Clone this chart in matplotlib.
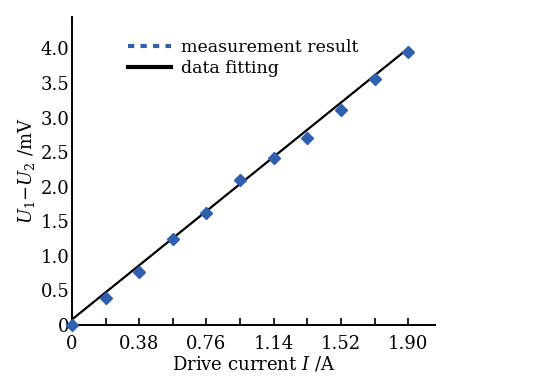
import numpy as np
import matplotlib.pyplot as plt
from matplotlib.lines import Line2D

# 测量数据
current = [0, 0.19, 0.38, 0.57, 0.76, 0.95, 1.14, 1.33, 1.52, 1.71, 1.90]
voltage = [0, 0.39, 0.77, 1.25, 1.62, 2.09, 2.41, 2.71, 3.11, 3.55, 3.94]

# 拟合直线
fit_x = [0, 1.90]
fit_y = [0.08, 4.0]

x_ticks = [0, 0.38, 0.76, 1.14, 1.52, 1.90]
x_labels = ['0', '0.38', '0.76', '1.14', '1.52', '1.90']
y_ticks = [0, 0.5, 1.0, 1.5, 2.0, 2.5, 3.0, 3.5, 4.0]
y_labels = ['0', '0.5', '1.0', '1.5', '2.0', '2.5', '3.0', '3.5', '4.0']

if __name__ == '__main__':
    plt.rcParams['font.family'] = 'DejaVu Serif'
    plt.rcParams['mathtext.fontset'] = 'dejavuserif'

    fig = plt.figure(figsize=(5.49, 3.82), dpi=100)
    ax = fig.add_axes([0.131, 0.149, 0.661, 0.806])

    blue = '#2f5fae'
    ax.plot(fit_x, fit_y, color='black', linewidth=1.6, zorder=2)
    ax.plot(current, voltage, linestyle='none', marker='D', markersize=6,
            color=blue, clip_on=False, zorder=3)

    ax.set_xlim(0, 2.05)
    ax.set_ylim(0, 4.45)

    ax.spines['top'].set_visible(False)
    ax.spines['right'].set_visible(False)
    ax.spines['left'].set_linewidth(1.4)
    ax.spines['bottom'].set_linewidth(1.4)

    ax.set_xticks(x_ticks)
    ax.set_xticklabels(x_labels)
    ax.set_xticks(current, minor=True)
    ax.set_yticks(y_ticks)
    ax.set_yticklabels(y_labels)
    ax.tick_params(axis='x', which='both', direction='in', length=5, width=1.2,
                   labelsize=13, pad=7)
    ax.tick_params(axis='y', which='both', direction='in', length=0, labelsize=13, pad=2)

    ax.set_xlabel('Drive current $I$ /A', fontsize=13, labelpad=1)
    ax.set_ylabel('$U_1$$-$$U_2$ /mV', fontsize=13, labelpad=2)

    # 图例
    h1 = Line2D([0], [0], linestyle=(0, (1.5, 1.5)), linewidth=3, color=blue)
    h2 = Line2D([0], [0], color='black', linewidth=3)
    ax.legend([h1, h2], ['measurement result', 'data fitting'],
              loc='upper left', bbox_to_anchor=(0.12, 0.97), frameon=False,
              fontsize=12.5, handlelength=2.5, handletextpad=0.6,
              labelspacing=0.25, borderaxespad=0.3)

    plt.savefig('out.png', dpi=100)
